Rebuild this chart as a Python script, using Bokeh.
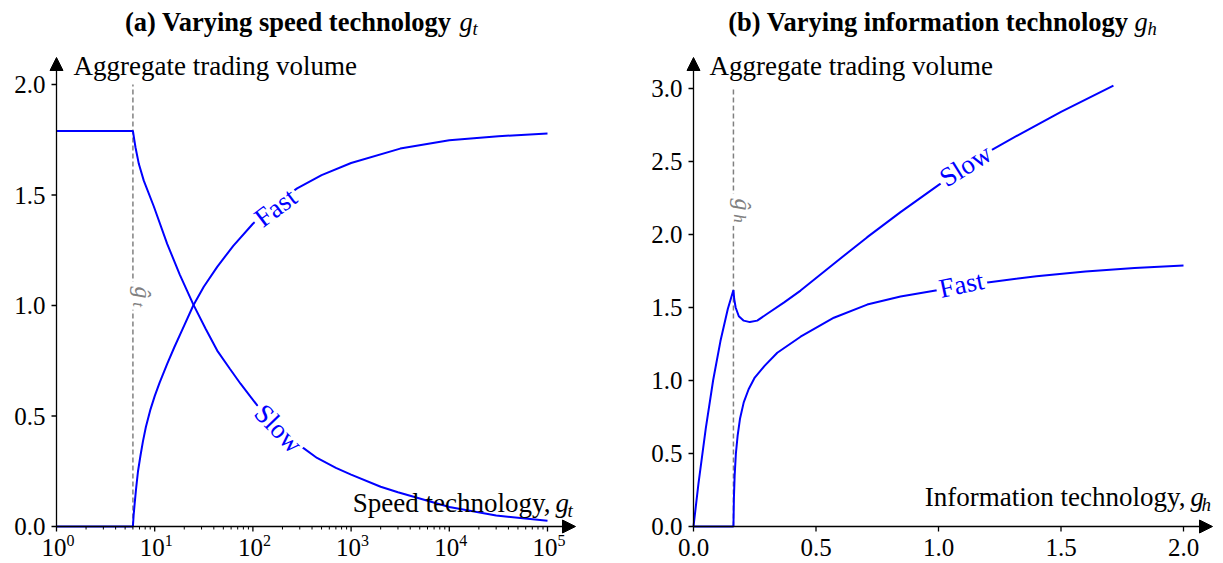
import math
from bokeh.plotting import figure
from bokeh.layouts import row
from bokeh.models import Range1d, Label, Arrow, NormalHead
from bokeh.embed import file_html
from bokeh.resources import INLINE

SERIF = "Liberation Serif"
BLUE = "#0000ff"
GRAY = "#808080"

# ---------------- Panel (a): varying speed technology g_t ----------------
speed_threshold = 6.0
speed_slow_g = [1, 6.0, 6.17, 6.37, 6.89, 7.74, 9.8, 13.4, 18.0, 24.7, 33.0, 43.3, 58.0,
                74.8, 110.7, 160, 230, 305, 450, 700, 1000, 2000, 3000, 10000, 30000, 100000]
speed_slow_v = [1.79, 1.79, 1.755, 1.716, 1.641, 1.565, 1.448, 1.279, 1.14, 1.005, 0.895,
                0.796, 0.715, 0.646, 0.548, 0.48, 0.41, 0.365, 0.31, 0.265, 0.235, 0.18,
                0.155, 0.088, 0.05, 0.026]
speed_fast_g = [1, 6.0, 6.1, 6.24, 6.46, 6.76, 7.16, 7.59, 8.13, 9.06, 10.0, 11.2, 13.4,
                15.8, 20.0, 24.7, 31.6, 43.3, 63.1, 100, 158, 282, 501, 1000, 3162,
                10000, 31623, 100000]
speed_fast_v = [0.0, 0.0, 0.05, 0.10, 0.17, 0.25, 0.32, 0.385, 0.45, 0.53, 0.59, 0.65,
                0.736, 0.81, 0.91, 1.0, 1.085, 1.175, 1.27, 1.37, 1.45, 1.53, 1.59, 1.645,
                1.71, 1.748, 1.766, 1.778]
speed_tick_exponents = [0, 1, 2, 3, 4, 5]
speed_yticks = [0.0, 0.5, 1.0, 1.5, 2.0]
speed_ytop = 2.0

# ---------------- Panel (b): varying information technology g_h ----------------
info_threshold = 0.163
info_slow_g = [0.0, 0.02, 0.05, 0.08, 0.11, 0.14, 0.163, 0.166, 0.172, 0.185, 0.205,
               0.23, 0.26, 0.301, 0.37, 0.437, 0.573, 0.708, 0.845, 1.001, 1.218,
               1.335, 1.50, 1.714]
info_slow_v = [0.0, 0.29, 0.67, 1.0, 1.27, 1.49, 1.62, 1.56, 1.50, 1.44, 1.41,
               1.40, 1.41, 1.457, 1.535, 1.616, 1.80, 1.98, 2.153, 2.34, 2.58,
               2.69, 2.84, 3.02]
info_fast_g = [0.0, 0.163, 0.165, 0.168, 0.173, 0.18, 0.19, 0.205, 0.225, 0.25, 0.29,
               0.342, 0.437, 0.573, 0.709, 0.845, 1.0, 1.2, 1.4, 1.6, 1.8, 2.0]
info_fast_v = [0.0, 0.0, 0.2, 0.35, 0.5, 0.62, 0.74, 0.85, 0.94, 1.02, 1.1,
               1.19, 1.30, 1.43, 1.52, 1.575, 1.62, 1.672, 1.714, 1.747, 1.77, 1.788]
info_xticks = [0.0, 0.5, 1.0, 1.5, 2.0]
info_yticks = [0.0, 0.5, 1.0, 1.5, 2.0, 2.5, 3.0]
info_ytop = 3.0

# ---------------- layout geometry (pixels) ----------------
H = 563
WA, WB = 608, 615
OA = (56, 526)          # origin of panel (a) axes on its canvas
OB = (85, 526)          # origin of panel (b) axes on its canvas
DEC_A, UY_A = 98.2, 221.0   # px per decade / per unit (a)
UX_B, UY_B = 245.0, 146.0   # px per unit (b)
TICK, MINOR = 5, 3


def txt(p, x, y, text, size, dx=0, dy=0, align="left", baseline="middle",
        style="normal", color="black", angle=0.0, bg=None, pad=0):
    kw = dict(x=x, y=y, x_offset=dx, y_offset=dy, text=text, text_font=SERIF,
              text_font_size=f"{size}px", text_align=align, text_baseline=baseline,
              text_font_style=style, text_color=color, angle=angle)
    if bg is not None:
        kw["background_fill_color"] = bg
        kw["padding"] = pad
    p.add_layout(Label(**kw))


def make_fig(width, xr, yr, log=False):
    p = figure(width=width, height=H, x_range=Range1d(*xr), y_range=Range1d(*yr),
               x_axis_type="log" if log else "linear",
               x_axis_location=None, y_axis_location=None,
               min_border_left=0, min_border_right=0, min_border_top=0,
               min_border_bottom=0, output_backend="svg", toolbar_location=None)
    p.outline_line_color = None
    p.xgrid.grid_line_color = None
    p.ygrid.grid_line_color = None
    return p


def arrow(p, xs, ys, xe, ye):
    p.add_layout(Arrow(x_start=xs, y_start=ys, x_end=xe, y_end=ye,
                       line_width=1.3, line_color="black",
                       end=NormalHead(size=13, fill_color="black",
                                      line_color="black", line_width=1)))


# ---------------- figure (a) ----------------
xa = (10 ** (-OA[0] / DEC_A), 10 ** ((WA - OA[0]) / DEC_A))
ya = (-(H - OA[1]) / UY_A, OA[1] / UY_A)
pa = make_fig(WA, xa, ya, log=True)
x0a = 1.0

pa.line([speed_threshold, speed_threshold], [0, speed_ytop], line_color=GRAY,
        line_width=1.5, line_dash="5 3")
pa.line(speed_slow_g, speed_slow_v, line_color=BLUE, line_width=2)
pa.line(speed_fast_g, speed_fast_v, line_color=BLUE, line_width=2)
arrow(pa, x0a, 0, 10 ** ((575 - OA[0]) / DEC_A), 0)
arrow(pa, x0a, 0, x0a, (OA[1] - 57) / UY_A)

# ticks
maj_x = [10.0 ** k for k in speed_tick_exponents]
min_x = [m * 10.0 ** k for k in speed_tick_exponents[:-1] for m in range(2, 10)]
pa.segment(x0=maj_x, y0=[0] * len(maj_x), x1=maj_x, y1=[-TICK / UY_A] * len(maj_x),
           line_color="black", line_width=1.3)
pa.segment(x0=min_x, y0=[0] * len(min_x), x1=min_x, y1=[-MINOR / UY_A] * len(min_x),
           line_color="black", line_width=1.0)
pa.segment(x0=[x0a] * len(speed_yticks), y0=speed_yticks,
           x1=[10 ** (-TICK / DEC_A)] * len(speed_yticks), y1=speed_yticks,
           line_color="black", line_width=1.3)
for t in speed_yticks:
    txt(pa, x0a, t, f"{t:.1f}", 25, dx=-11, align="right")
for k in speed_tick_exponents:
    txt(pa, 10.0 ** k, 0, "10", 25, dx=10, dy=-20.6, align="right")
    txt(pa, 10.0 ** k, 0, str(k), 16, dx=10, dy=-14.3, align="left")

# titles / axis labels (offsets in px from the origin)
txt(pa, x0a, 0, "(a) Varying speed technology", 26.5, dx=395, dy=505, align="right", style="bold")
txt(pa, x0a, 0, "g", 26.5, dx=403, dy=505, style="italic")
txt(pa, x0a, 0, "t", 18.5, dx=416, dy=497.4, style="italic")
txt(pa, x0a, 0, "Aggregate trading volume", 27, dx=17, dy=461)
txt(pa, x0a, 0, "Speed technology,", 27, dx=494, dy=24, align="right")
txt(pa, x0a, 0, "g", 27, dx=499, dy=24, style="italic")
txt(pa, x0a, 0, "t", 19, dx=511, dy=16.4, style="italic")
# threshold label
txt(pa, speed_threshold, 0, "ĝ", 24, dx=10, dy=234, align="center", style="italic",
    color=GRAY, angle=-math.pi / 2, bg="white", pad=5)
txt(pa, speed_threshold, 0, "t", 17, dx=6, dy=222, align="center", style="italic",
    color=GRAY, angle=-math.pi / 2, bg="white", pad=3)
# curve labels
txt(pa, x0a, 0, "Fast", 27, dx=219, dy=319, align="center",
    color=BLUE, angle=math.radians(37), bg="white", pad=3)
txt(pa, x0a, 0, "Slow", 27, dx=222, dy=98, align="center",
    color=BLUE, angle=math.radians(-46), bg="white", pad=3)

# ---------------- figure (b) ----------------
xb = (-OB[0] / UX_B, (WB - OB[0]) / UX_B)
yb = (-(H - OB[1]) / UY_B, OB[1] / UY_B)
pb = make_fig(WB, xb, yb)
x0b = 0.0

pb.line([info_threshold, info_threshold], [0, info_ytop], line_color=GRAY,
        line_width=1.5, line_dash="5 3")
pb.line(info_slow_g, info_slow_v, line_color=BLUE, line_width=2)
pb.line(info_fast_g, info_fast_v, line_color=BLUE, line_width=2)
arrow(pb, x0b, 0, (1212 - 608 - OB[0]) / UX_B, 0)
arrow(pb, x0b, 0, x0b, (OB[1] - 57) / UY_B)

pb.segment(x0=info_xticks, y0=[0] * len(info_xticks), x1=info_xticks,
           y1=[-TICK / UY_B] * len(info_xticks), line_color="black", line_width=1.3)
pb.segment(x0=[x0b] * len(info_yticks), y0=info_yticks,
           x1=[-TICK / UX_B] * len(info_yticks), y1=info_yticks,
           line_color="black", line_width=1.3)
for t in info_yticks:
    txt(pb, x0b, t, f"{t:.1f}", 25, dx=-11, align="right")
for t in info_xticks:
    txt(pb, t, 0, f"{t:.1f}", 25, dy=-20.6, align="center")

txt(pb, x0b, 0, "(b) Varying information technology", 26.5, dx=435, dy=505, align="right", style="bold")
txt(pb, x0b, 0, "g", 26.5, dx=441, dy=505, style="italic")
txt(pb, x0b, 0, "h", 18.5, dx=454, dy=497.4, style="italic")
txt(pb, x0b, 0, "Aggregate trading volume", 27, dx=16, dy=461)
txt(pb, x0b, 0, "Information technology,", 27, dx=492, dy=30, align="right")
txt(pb, x0b, 0, "g", 27, dx=497, dy=30, style="italic")
txt(pb, x0b, 0, "h", 19, dx=508, dy=22.4, style="italic")
txt(pb, info_threshold, 0, "ĝ", 24, dx=10, dy=322, align="center", style="italic",
    color=GRAY, angle=-math.pi / 2, bg="white", pad=5)
txt(pb, info_threshold, 0, "h", 17, dx=6, dy=308, align="center", style="italic",
    color=GRAY, angle=-math.pi / 2, bg="white", pad=3)
txt(pb, x0b, 0, "Slow", 27, dx=272, dy=361, align="center",
    color=BLUE, angle=math.radians(32), bg="white", pad=3)
txt(pb, x0b, 0, "Fast", 27, dx=268, dy=242, align="center",
    color=BLUE, angle=math.radians(12), bg="white", pad=3)

layout = row(pa, pb)
open("out.html", "w").write(file_html(layout, INLINE))
